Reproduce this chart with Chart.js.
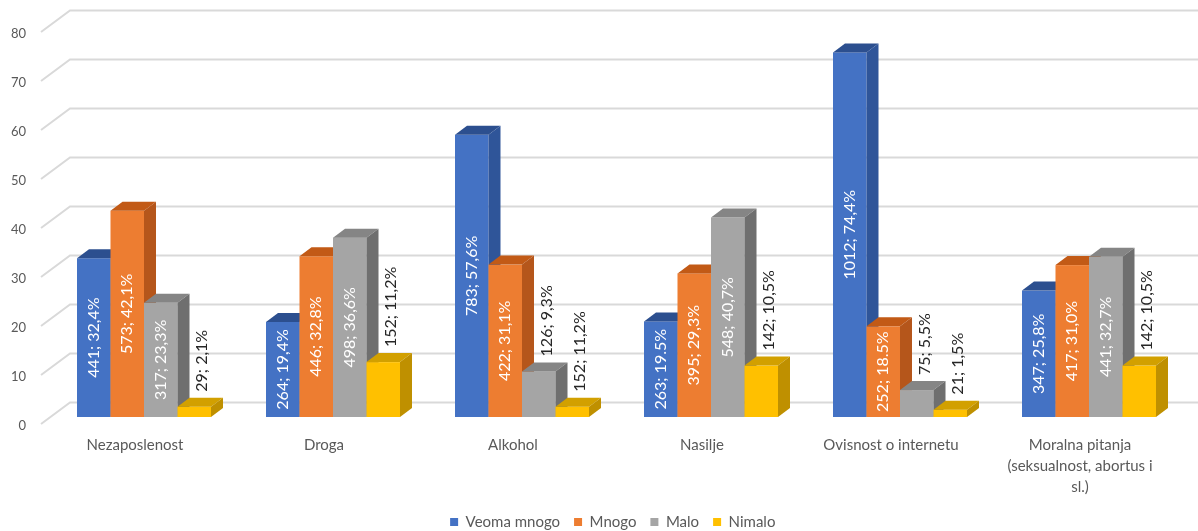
<!DOCTYPE html>
<html>
<head>
<meta charset="utf-8">
<script src="https://cdn.jsdelivr.net/npm/chart.js@4.4.1/dist/chart.umd.min.js"></script>
<style>
  html, body { margin: 0; padding: 0; background: #fff; }
  canvas { display: block; }
</style>
</head>
<body>
<canvas id="chart" width="1198" height="531"></canvas>
<script>
// categories and series (percent values)
const categories = ['Nezaposlenost', 'Droga', 'Alkohol', 'Nasilje', 'Ovisnost o internetu',
    ['Moralna pitanja', '(seksualnost, abortus i', 'sl.)']]
const seriesNames = ['Veoma mnogo', 'Mnogo', 'Malo', 'Nimalo']

const veomaMnogo = [32.4, 19.4, 57.6, 19.5, 74.4, 25.8]
const mnogo = [42.1, 32.8, 31.1, 29.3, 18.5, 31.0]
const malo = [23.3, 36.6, 9.3, 40.7, 5.5, 32.7]
const nimalo = [2.1, 11.2, 2.1, 10.5, 1.5, 10.5]

// data labels exactly as printed (count; percent)
const veomaMnogoLbl = ['441; 32,4%', '264; 19,4%', '783; 57,6%', '263; 19.5%', '1012; 74,4%', '347; 25,8%']
const mnogoLbl = ['573; 42,1%', '446; 32,8%', '422; 31,1%', '395; 29,3%', '252; 18.5%', '417; 31,0%']
const maloLbl = ['317; 23,3%', '498; 36,6%', '126; 9,3%', '548; 40,7%', '75; 5,5%', '441; 32,7%']
const nimaloLbl = ['29; 2,1%', '152; 11,2%', '152; 11,2%', '142; 10,5%', '21; 1,5%', '142; 10,5%']

const yTicks = { min: 0, max: 80, step: 10 }

const frontColors = ['#4472c4', '#ed7d31', '#a5a5a5', '#ffc000']
const topColors = ['#2c4f8f', '#c25a16', '#858585', '#d2a000']
const sideColors = ['#2f5599', '#b5561b', '#6f6f6f', '#bf9000']

const FONT = 'Lato'
const DX = 12, DY = -9   // bar depth

const bars3d = {
    id: 'bars3d',
    afterLayout(chart) {
        // legend sits a bit right of the canvas centre in the original
        chart.legend.left += 21
        chart.legend.right += 21
    },
    beforeDatasetsDraw(chart) {
        const ctx = chart.ctx
        const y = chart.scales.y
        const area = chart.chartArea

        // back wall grid lines with the slanted floor edge
        ctx.save()
        ctx.strokeStyle = '#d9d9d9'
        ctx.lineWidth = 2
        y.ticks.forEach(t => {
            const py = y.getPixelForValue(t.value)
            ctx.beginPath()
            ctx.moveTo(area.left - 8.5, py + 7)
            ctx.lineTo(area.left + 20.5, py - 14.5)
            ctx.lineTo(chart.width, py - 14.5)
            ctx.stroke()
        })
        ctx.restore()

        // bars, left to right so each front hides the previous side
        const n = chart.data.labels.length
        const metas = chart.data.datasets.map((d, i) => chart.getDatasetMeta(i))
        for (let i = 0; i < n; i++) {
            metas.forEach((meta, d) => {
                const el = meta.data[i]
                const l = el.x - el.width / 2, r = el.x + el.width / 2
                const top = el.y, base = el.base
                ctx.fillStyle = frontColors[d]
                ctx.fillRect(l, top, r - l, base - top)
                ctx.fillStyle = topColors[d]
                ctx.beginPath()
                ctx.moveTo(l, top); ctx.lineTo(l + DX, top + DY)
                ctx.lineTo(r + DX, top + DY); ctx.lineTo(r, top)
                ctx.closePath(); ctx.fill()
                ctx.fillStyle = sideColors[d]
                ctx.beginPath()
                ctx.moveTo(r, top); ctx.lineTo(r + DX, top + DY)
                ctx.lineTo(r + DX, base + DY); ctx.lineTo(r, base)
                ctx.closePath(); ctx.fill()
            })
        }

        // rotated data labels: centred inside if they fit, else above the bar
        const lbls = [veomaMnogoLbl, mnogoLbl, maloLbl, nimaloLbl]
        ctx.save()
        ctx.font = '16px ' + FONT
        ctx.textBaseline = 'middle'
        metas.forEach((meta, d) => {
            meta.data.forEach((el, i) => {
                const txt = lbls[d][i]
                const tw = ctx.measureText(txt).width
                const h = el.base - el.y
                ctx.save()
                if (tw <= h) {
                    ctx.translate(el.x, (el.y + el.base) / 2)
                    ctx.rotate(-Math.PI / 2)
                    ctx.textAlign = 'center'
                    ctx.fillStyle = '#ffffff'
                } else {
                    ctx.translate(el.x + 8, el.y - 15)
                    ctx.rotate(-Math.PI / 2)
                    ctx.textAlign = 'left'
                    ctx.fillStyle = '#262626'
                }
                ctx.fillText(txt, 0, 0)
                ctx.restore()
            })
        })
        ctx.restore()
        return false
    }
}

const ctx = document.getElementById('chart')
const myChart = new Chart(ctx, {
    type: 'bar',
    data: {
        labels: categories,
        datasets: [veomaMnogo, mnogo, malo, nimalo].map((vals, i) => ({
            label: seriesNames[i],
            data: vals,
            backgroundColor: frontColors[i],
            borderWidth: 0,
            barPercentage: 1,
            categoryPercentage: 0.709
        }))
    },
    options: {
        responsive: false,
        devicePixelRatio: 1,
        animation: false,
        layout: { padding: { top: 25, left: 0, right: 14.5, bottom: -8.5 } },
        plugins: {
            tooltip: { enabled: false },
            legend: {
                position: 'bottom',
                labels: {
                    boxWidth: 8,
                    boxHeight: 8,
                    padding: 14,
                    color: '#595959',
                    font: { family: FONT, size: 15 }
                }
            }
        },
        scales: {
            x: {
                grid: { display: false, drawTicks: false },
                border: { display: false },
                ticks: {
                    color: '#595959',
                    font: { family: FONT, size: 15, lineHeight: 1.4 },
                    padding: 17.5,
                    labelOffset: -9,
                    maxRotation: 0,
                    autoSkip: false
                },
                afterFit(scale) {
                    scale.height = 83.5
                    scale.paddingLeft = 0
                    scale.paddingRight = 0
                }
            },
            y: {
                min: yTicks.min,
                max: yTicks.max,
                grid: { display: false, drawTicks: false },
                border: { display: false },
                ticks: {
                    stepSize: yTicks.step,
                    color: '#595959',
                    font: { family: FONT, size: 13 },
                    padding: 23.5,
                    labelOffset: 9
                },
                afterFit(scale) {
                    scale.width = 49.5
                    scale.paddingTop = 0
                    scale.paddingBottom = 0
                }
            }
        }
    },
    plugins: [bars3d]
})
</script>
</body>
</html>
